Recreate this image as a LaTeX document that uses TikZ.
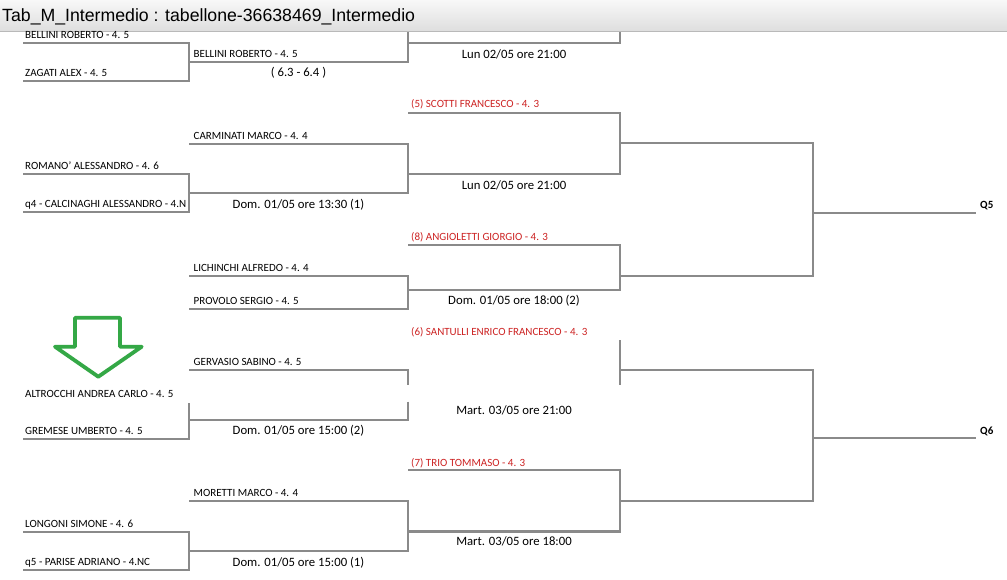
\documentclass[tikz,border=0pt]{standalone}
\usepackage{fontspec}
\setmainfont{Carlito}
\newfontfamily\titlefont{Liberation Sans}
\definecolor{brgray}{RGB}{138,138,138}
\definecolor{seedred}{RGB}{205,35,35}
\definecolor{arrowgreen}{RGB}{52,168,70}
\definecolor{bartop}{RGB}{248,248,248}
\definecolor{barbot}{RGB}{222,222,222}
\begin{document}
\begin{tikzpicture}[x=1pt,y=-1pt,
  br/.style={draw=brgray,line width=2.3pt,line join=miter},
  nm/.style={anchor=base west,inner sep=0pt,font=\fontsize{11}{11}\selectfont},
  seed/.style={nm,text=seedred},
  dt/.style={anchor=base,inner sep=0pt,font=\fontsize{12.7}{13}\selectfont},
  qlab/.style={anchor=base west,inner sep=0pt,font=\bfseries\fontsize{11}{11}\selectfont},
  bigarrow/.style={draw=arrowgreen,line width=3.8pt,line join=round}]
\useasboundingbox (0,0) rectangle (1007,579);
\fill[white] (0,0) rectangle (1007,579);
% title bar
\shade[top color=bartop,bottom color=barbot] (0,0) rectangle (1007,31);
\draw[draw={rgb,255:red,185;green,185;blue,185},line width=1pt] (0,31) -- (1007,31);
\node[anchor=base west,inner sep=0pt,font=\titlefont\fontsize{17.7}{18}\selectfont] (title) at (2,21) {Tab\_M\_Intermedio : tabellone-36638469\_Intermedio};

% ---------- top block ----------
\draw[br] (23,43.3) -- (189,43.3) -- (189,80.7) -- (23,80.7);
\draw[br] (189,62) -- (408,62) -- (408,32);
\draw[br] (408,42.7) -- (620,42.7) -- (620,32);
\node[nm] (bel1) at (25,38.8) {BELLINI ROBERTO - 4. 5};
\node[nm] (zag) at (25,76.2) {ZAGATI ALEX - 4. 5};
\node[nm] (bel2) at (193.5,57.5) {BELLINI ROBERTO - 4. 5};
\node[dt] (score) at (298.5,76.7) {( 6.3 - 6.4 )};
\node[dt] (d1) at (514,58.5) {Lun 02/05 ore 21:00};

% ---------- Q5 block ----------
\draw[br] (408,112.7) -- (620,112.7) -- (620,174.3) -- (408,174.3);
\draw[br] (620,143.3) -- (813,143.3) -- (813,275.7) -- (620,275.7);
\draw[br] (813,212.7) -- (976,212.7);
\draw[br] (189,144) -- (408,144) -- (408,192.7) -- (189,192.7);
\draw[br] (23,174) -- (189,174) -- (189,212.3) -- (23,212.3);
\draw[br] (408,245) -- (620,245) -- (620,290) -- (408,290);
\draw[br] (189,275.7) -- (408,275.7) -- (408,308.7) -- (189,308.7);
\node[seed] (scotti) at (411,107) {(5) SCOTTI FRANCESCO - 4. 3};
\node[nm] (carm) at (193.5,139.5) {CARMINATI MARCO - 4. 4};
\node[nm] (romano) at (25,169.5) {ROMANO' ALESSANDRO - 4. 6};
\node[nm] (q4) at (25,207.8) {q4 - CALCINAGHI ALESSANDRO - 4.N};
\node[dt] (d2) at (514,189) {Lun 02/05 ore 21:00};
\node[dt] (d3) at (298.5,208.7) {Dom. 01/05 ore 13:30 (1)};
\node[seed] (ang) at (411,240.5) {(8) ANGIOLETTI GIORGIO - 4. 3};
\node[nm] (lich) at (193.5,271.2) {LICHINCHI ALFREDO - 4. 4};
\node[nm] (prov) at (193.5,304.2) {PROVOLO SERGIO - 4. 5};
\node[dt] (d4) at (514,304.5) {Dom. 01/05 ore 18:00 (2)};
\node[qlab] (q5lab) at (980,208.5) {Q5};

% ---------- Q6 block ----------
\draw[br] (620,340) -- (620,385);
\draw[br] (620,370) -- (813,370) -- (813,501) -- (620,501);
\draw[br] (813,438.3) -- (976,438.3);
\draw[br] (189,370) -- (408,370) -- (408,385);
\draw[br] (408,401.7) -- (408,420) -- (189,420);
\draw[br] (189,403) -- (189,439) -- (23,439);
\draw[br] (408,470) -- (620,470) -- (620,531.5) -- (408,531.5);
\draw[br] (189,501) -- (408,501) -- (408,551) -- (189,551);
\draw[br] (23,531.7) -- (189,531.7) -- (189,570) -- (23,570);
\node[seed] (sant) at (411,335.3) {(6) SANTULLI ENRICO FRANCESCO - 4. 3};
\node[nm] (gerv) at (193.5,365.8) {GERVASIO SABINO - 4. 5};
\node[nm] (altr) at (25,397.5) {ALTROCCHI ANDREA CARLO - 4. 5};
\node[dt] (d5) at (514,414.5) {Mart. 03/05 ore 21:00};
\node[nm] (grem) at (25,434.5) {GREMESE UMBERTO - 4. 5};
\node[dt] (d6) at (298.5,434.5) {Dom. 01/05 ore 15:00 (2)};
\node[seed] (trio) at (411,466) {(7) TRIO TOMMASO - 4. 3};
\node[nm] (mor) at (193.5,496.5) {MORETTI MARCO - 4. 4};
\node[nm] (long) at (25,527.2) {LONGONI SIMONE - 4. 6};
\node[dt] (d7) at (514,545.8) {Mart. 03/05 ore 18:00};
\node[nm] (q5p) at (25,565.5) {q5 - PARISE ADRIANO - 4.NC};
\node[dt] (d8) at (298.5,566.3) {Dom. 01/05 ore 15:00 (1)};
\node[qlab] (q6lab) at (980,434.5) {Q6};

% ---------- green arrow ----------
\draw[bigarrow] (75,317.7) -- (120,317.7) -- (120,346.7) -- (141.7,346.7)
  -- (98.3,376.7) -- (55,346.7) -- (75,346.7) -- cycle;
\end{tikzpicture}
\end{document}
